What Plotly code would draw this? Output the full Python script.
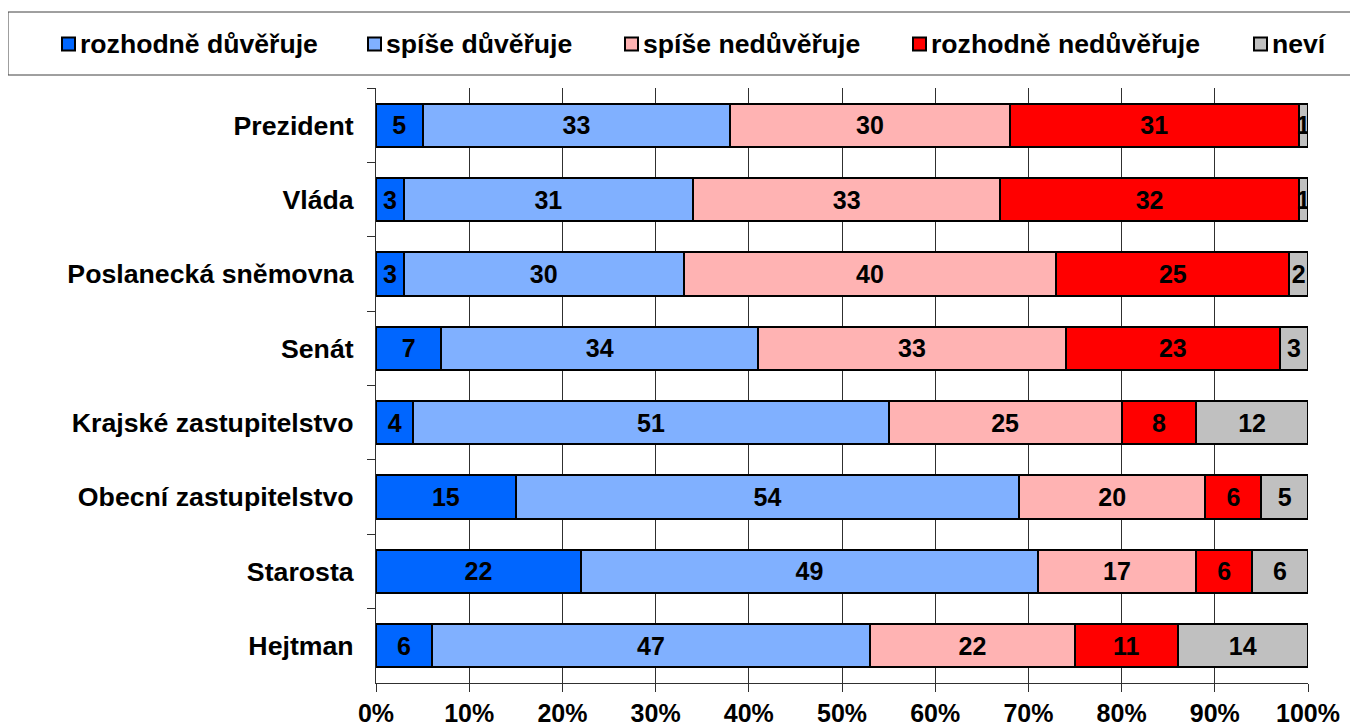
import plotly.graph_objects as go

categories = ["Prezident", "Vláda", "Poslanecká sněmovna", "Senát",
              "Krajské zastupitelstvo", "Obecní zastupitelstvo", "Starosta", "Hejtman"]
series_names = ["rozhodně důvěřuje", "spíše důvěřuje", "spíše nedůvěřuje",
                "rozhodně nedůvěřuje", "neví"]
rozhodne_duveruje = [5, 3, 3, 7, 4, 15, 22, 6]
spise_duveruje = [33, 31, 30, 34, 51, 54, 49, 47]
spise_neduveruje = [30, 33, 40, 33, 25, 20, 17, 22]
rozhodne_neduveruje = [31, 32, 25, 23, 8, 6, 6, 11]
nevi = [1, 1, 2, 3, 12, 5, 6, 14]
series_values = [rozhodne_duveruje, spise_duveruje, spise_neduveruje,
                 rozhodne_neduveruje, nevi]
x_tick_vals = [0, 10, 20, 30, 40, 50, 60, 70, 80, 90, 100]
x_tick_text = ["0%", "10%", "20%", "30%", "40%", "50%", "60%", "70%", "80%", "90%", "100%"]

colors = ["#0066FF", "#80B0FF", "#FFB3B3", "#FF0000", "#C0C0C0"]
FONT = "Liberation Sans, Arial, sans-serif"

# page body has an 8px margin, so figure coordinates = screen coordinates - 8
OFF = 8
W, H = 1358 - OFF, 727 - OFF
X0, X1, Y0, Y1 = 376 - OFF, 1308 - OFF, 88 - OFF, 683 - OFF


def px_x(p):
    return (p - OFF - X0) / (X1 - X0)


def px_y(p):
    return (Y1 - (p - OFF)) / (Y1 - Y0)


fig = go.Figure()
for name, vals, col in zip(series_names, series_values, colors):
    fig.add_trace(go.Bar(
        y=categories, x=vals, name=name, orientation="h",
        marker=dict(color=col, line=dict(color="#000000", width=2)),
        text=[str(v) for v in vals], textposition="inside",
        insidetextanchor="middle", textangle=0,
        textfont=dict(family=FONT, size=25, color="#000000", weight="bold"),
        showlegend=False, hoverinfo="x+y+name",
    ))

# manual legend (screen pixel positions of the reference)
leg_marker_x = [62, 368, 625, 913, 1254]
shapes = [dict(type="rect", xref="paper", yref="paper",
               x0=px_x(8), x1=px_x(1362), y0=px_y(75), y1=px_y(12),
               line=dict(color="#404040", width=1), fillcolor="rgba(0,0,0,0)")]
annotations = []
for name, col, mx in zip(series_names, colors, leg_marker_x):
    shapes.append(dict(type="rect", xref="paper", yref="paper",
                       x0=px_x(mx), x1=px_x(mx + 13), y0=px_y(50.5), y1=px_y(37.5),
                       line=dict(color="#000000", width=2), fillcolor=col))
    annotations.append(dict(xref="paper", yref="paper", x=px_x(mx + 16), y=px_y(44),
                            xanchor="left", yanchor="middle", showarrow=False,
                            text=name,
                            font=dict(family=FONT, size=26.6, color="#000000", weight="bold")))

fig.update_layout(
    barmode="stack", bargap=0.42,
    width=W, height=H, autosize=False,
    margin=dict(l=X0, r=W - X1, t=Y0, b=H - Y1, pad=0, autoexpand=False),
    paper_bgcolor="white", plot_bgcolor="white",
    shapes=shapes, annotations=annotations,
    uniformtext=dict(minsize=25, mode="show"),
    xaxis=dict(range=[0, 100], tickvals=x_tick_vals, ticktext=x_tick_text,
               automargin=False,
               showgrid=True, gridcolor="#303030", gridwidth=1,
               showline=True, linecolor="#303030", linewidth=1,
               ticks="outside", ticklen=8, tickcolor="#303030",
               tickfont=dict(family=FONT, size=25, color="#000000", weight="bold"),
               zeroline=False, fixedrange=True),
    yaxis=dict(autorange="reversed", showline=True, linecolor="#303030", linewidth=1,
               automargin=False,
               ticks="outside", ticklen=8, tickcolor="#303030", tickson="boundaries",
               ticklabelstandoff=16,
               tickfont=dict(family=FONT, size=26.7, color="#000000", weight="bold"),
               showgrid=False, fixedrange=True),
)

fig.write_html("out.html")
